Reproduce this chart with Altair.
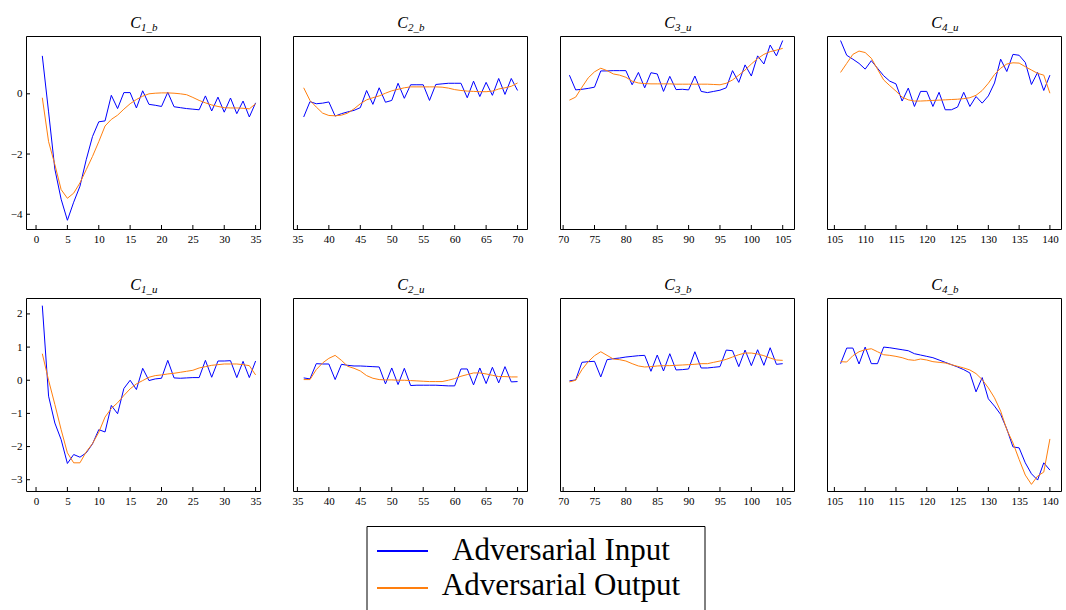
import altair as alt
import pandas as pd

series_names = ["Adversarial Input", "Adversarial Output"]
series_colors = ["#0000ff", "#ff7f0e"]

subs = ["1_b", "2_b", "3_u", "4_u", "1_u", "2_u", "3_b", "4_b"]
x_starts = [1, 36, 71, 106, 1, 36, 71, 106]

c1b_in = [1.26, -0.6, -2.5, -3.5, -4.2, -3.6, -3.07, -2.19, -1.42, -0.93, -0.9, -0.05, -0.49, 0.04, 0.04,
          -0.47, 0.1, -0.35, -0.38, -0.42, 0.05, -0.43, -0.46, -0.49, -0.51, -0.53, -0.07, -0.57, -0.11,
          -0.61, -0.14, -0.66, -0.24, -0.77, -0.3]
c1b_out = [-0.13, -1.59, -2.35, -3.18, -3.47, -3.3, -2.96, -2.52, -2.08, -1.59, -1.07, -0.85, -0.71, -0.51,
           -0.33, -0.19, -0.08, 0.0, 0.02, 0.03, 0.03, 0.02, 0.0, -0.03, -0.12, -0.22, -0.3, -0.37, -0.42,
           -0.46, -0.47, -0.47, -0.48, -0.5, -0.33]
c2b_in = [-0.77, -0.26, -0.33, -0.31, -0.27, -0.74, -0.66, -0.6, -0.55, -0.46, 0.11, -0.35, 0.2, -0.28,
          -0.22, 0.35, -0.15, 0.3, 0.3, 0.3, -0.22, 0.31, 0.33, 0.35, 0.35, 0.35, -0.13, 0.42, -0.09, 0.38,
          -0.05, 0.51, -0.02, 0.51, 0.11]
c2b_out = [0.2, -0.22, -0.44, -0.64, -0.72, -0.73, -0.71, -0.64, -0.5, -0.33, -0.2, -0.13, -0.07, 0.02, 0.1,
           0.15, 0.2, 0.23, 0.23, 0.23, 0.23, 0.23, 0.22, 0.19, 0.14, 0.11, 0.09, 0.08, 0.07, 0.07, 0.09,
           0.16, 0.2, 0.25, 0.36]
c3u_in = [0.62, 0.13, 0.15, 0.18, 0.22, 0.76, 0.76, 0.77, 0.77, 0.77, 0.3, 0.71, 0.2, 0.7, 0.66, 0.08, 0.58,
          0.14, 0.15, 0.13, 0.59, 0.08, 0.04, 0.08, 0.12, 0.2, 0.77, 0.38, 0.96, 0.59, 1.26, 0.99, 1.62,
          1.26, 1.77]
c3u_out = [-0.21, -0.11, 0.22, 0.53, 0.73, 0.85, 0.77, 0.66, 0.62, 0.55, 0.42, 0.36, 0.34, 0.33, 0.33, 0.33,
           0.33, 0.32, 0.32, 0.32, 0.32, 0.32, 0.32, 0.31, 0.3, 0.35, 0.46, 0.62, 0.79, 0.99, 1.17, 1.31,
           1.4, 1.45, 1.51]
c4u_in = [1.77, 1.28, 1.15, 1.01, 0.82, 1.1, 0.85, 0.6, 0.42, 0.33, -0.24, 0.19, -0.42, 0.08, 0.08, -0.42,
          0.05, -0.53, -0.53, -0.44, 0.05, -0.42, -0.09, -0.31, -0.07, 0.36, 1.15, 0.74, 1.31, 1.28, 1.04,
          0.31, 0.71, 0.11, 0.62]
c4u_out = [0.71, 1.01, 1.31, 1.42, 1.37, 1.18, 0.82, 0.46, 0.27, 0.09, -0.11, -0.2, -0.24, -0.24, -0.23,
           -0.22, -0.21, -0.2, -0.19, -0.18, -0.16, -0.13, -0.05, 0.11, 0.35, 0.64, 0.85, 0.99, 1.03, 1.02,
           0.9, 0.79, 0.68, 0.62, 0.02]
c1u_in = [2.25, -0.48, -1.29, -1.79, -2.51, -2.24, -2.32, -2.19, -1.92, -1.49, -1.56, -0.76, -1.01, -0.25,
          0.0, -0.28, 0.36, -0.01, 0.04, 0.06, 0.6, 0.07, 0.06, 0.07, 0.08, 0.08, 0.6, 0.09, 0.58, 0.58,
          0.59, 0.08, 0.57, 0.08, 0.58]
c1u_out = [0.8, 0.0, -0.73, -1.49, -2.19, -2.49, -2.49, -2.16, -1.91, -1.57, -1.11, -0.85, -0.68, -0.46,
           -0.26, -0.11, -0.01, 0.09, 0.14, 0.16, 0.19, 0.21, 0.24, 0.27, 0.3, 0.37, 0.41, 0.45, 0.47, 0.49,
           0.49, 0.49, 0.47, 0.44, 0.16]
c2u_in = [0.07, 0.04, 0.5, 0.49, 0.49, 0.02, 0.48, 0.45, 0.43, 0.43, 0.42, 0.41, 0.4, -0.11, 0.37, -0.13,
          0.36, -0.16, -0.15, -0.15, -0.15, -0.15, -0.16, -0.17, -0.17, 0.34, 0.34, -0.14, 0.37, -0.1,
          0.39, -0.08, 0.41, -0.05, -0.04]
c2u_out = [0.02, 0.02, 0.32, 0.52, 0.66, 0.75, 0.6, 0.42, 0.36, 0.28, 0.14, 0.06, 0.02, 0.01, 0.01, 0.0,
           0.0, -0.01, -0.02, -0.03, -0.04, -0.04, -0.04, 0.0, 0.05, 0.12, 0.17, 0.22, 0.22, 0.19, 0.15,
           0.11, 0.11, 0.1, 0.1]
c3b_in = [-0.02, 0.01, 0.54, 0.56, 0.57, 0.1, 0.62, 0.65, 0.67, 0.7, 0.72, 0.74, 0.75, 0.27, 0.76, 0.28,
          0.8, 0.31, 0.32, 0.34, 0.86, 0.37, 0.37, 0.39, 0.41, 0.91, 0.89, 0.41, 0.91, 0.44, 0.92, 0.45,
          0.98, 0.48, 0.5]
c3b_out = [-0.05, 0.0, 0.32, 0.56, 0.74, 0.86, 0.75, 0.64, 0.62, 0.58, 0.5, 0.43, 0.4, 0.41, 0.43, 0.44,
           0.44, 0.45, 0.46, 0.47, 0.48, 0.5, 0.5, 0.54, 0.58, 0.63, 0.7, 0.77, 0.82, 0.82, 0.79, 0.74,
           0.67, 0.61, 0.6]
c4b_in = [0.5, 0.97, 0.97, 0.49, 1.0, 0.5, 0.5, 1.0, 0.98, 0.95, 0.92, 0.89, 0.8, 0.76, 0.72, 0.68, 0.61,
          0.54, 0.47, 0.4, 0.32, 0.22, -0.35, 0.08, -0.56, -0.78, -1.03, -1.47, -2.01, -2.04, -2.49, -2.82,
          -3.01, -2.49, -2.71]
c4b_out = [0.56, 0.55, 0.74, 0.86, 0.92, 0.95, 0.86, 0.77, 0.75, 0.72, 0.68, 0.62, 0.6, 0.64, 0.61, 0.56,
           0.54, 0.52, 0.47, 0.42, 0.37, 0.31, 0.2, 0.02, -0.23, -0.53, -0.93, -1.49, -1.89, -2.39, -2.86,
           -3.14, -2.89, -2.77, -1.77]

inputs = [c1b_in, c2b_in, c3u_in, c4u_in, c1u_in, c2u_in, c3b_in, c4b_in]
outputs = [c1b_out, c2b_out, c3u_out, c4u_out, c1u_out, c2u_out, c3b_out, c4b_out]

x_ticks = [[0, 5, 10, 15, 20, 25, 30, 35],
           [35, 40, 45, 50, 55, 60, 65, 70],
           [70, 75, 80, 85, 90, 95, 100, 105],
           [105, 110, 115, 120, 125, 130, 135, 140]]
x_domains = [[-1.6, 35.7], [34.3, 71.5], [69.5, 106.8], [103.8, 141.8]]
y_ticks = [[-4, -2, 0], [-3, -2, -1, 0, 1, 2]]
y_domains = [[-4.49, 1.92], [-3.34, 2.48]]

W, H = 234, 193
GAP = 33
SERIF = "Liberation Serif"


def legend_layers():
    # legend drawn below the bottom-left panel, positioned relative to its plot area
    top = H + 35
    layers = [
        alt.Chart(pd.DataFrame({"a": [0]})).mark_rect(
            filled=False, stroke="black", strokeWidth=1
        ).encode(x=alt.value(341), x2=alt.value(679), y=alt.value(top + 0.5), y2=alt.value(top + 100))
    ]
    line_y = [25, 62]
    text_y = [34, 69]
    for k, name in enumerate(series_names):
        layers.append(
            alt.Chart(pd.DataFrame({"s": [name]})).mark_rule(strokeWidth=2, color=series_colors[k]).encode(
                x=alt.value(351), x2=alt.value(402), y=alt.value(top + line_y[k])
            )
        )
        layers.append(
            alt.Chart(pd.DataFrame({"s": [name]})).mark_text(
                font=SERIF, fontSize=31, align="center", baseline="alphabetic", color="black"
            ).encode(text="s:N", x=alt.value(535), y=alt.value(top + text_y[k]))
        )
    return layers


def panel(i):
    row, col = i // 4, i % 4
    xs = list(range(x_starts[i], x_starts[i] + len(inputs[i])))
    df = pd.DataFrame({
        "x": xs + xs,
        "v": inputs[i] + outputs[i],
        "series": [series_names[0]] * len(xs) + [series_names[1]] * len(xs),
    })
    xscale = alt.Scale(domain=x_domains[col], nice=False, zero=False)
    yscale = alt.Scale(domain=y_domains[row], nice=False, zero=False)
    xaxis = alt.Axis(values=x_ticks[col], ticks=False, domain=False, grid=False,
                     labelPadding=4, title=None, format="d")
    if col == 0:
        yaxis = alt.Axis(values=y_ticks[row], ticks=False, domain=False, grid=False,
                         labelPadding=4, title=None, format="d")
    else:
        yaxis = None
    lines = alt.Chart(df).mark_line(strokeWidth=1, clip=True).encode(
        x=alt.X("x:Q", scale=xscale, axis=xaxis),
        y=alt.Y("v:Q", scale=yscale, axis=yaxis),
        color=alt.Color("series:N", scale=alt.Scale(domain=series_names, range=series_colors), legend=None),
    )
    xt = alt.Chart(pd.DataFrame({"x": x_ticks[col]})).mark_rule(color="black", strokeWidth=1).encode(
        x=alt.X("x:Q", scale=xscale, axis=xaxis),
        y=alt.value(H - 4), y2=alt.value(H),
    )
    layers = [lines, xt]
    if col == 0:
        yt = alt.Chart(pd.DataFrame({"v": y_ticks[row]})).mark_rule(color="black", strokeWidth=1).encode(
            y=alt.Y("v:Q", scale=yscale, axis=yaxis),
            x=alt.value(0), x2=alt.value(4),
        )
        layers.append(yt)
    tC = alt.Chart(pd.DataFrame({"t": ["C"]})).mark_text(
        font=SERIF, fontSize=16, fontStyle="italic", align="right", baseline="alphabetic", color="black"
    ).encode(text="t:N", x=alt.value(W / 2 - 2), y=alt.value(-8))
    tS = alt.Chart(pd.DataFrame({"t": [subs[i]]})).mark_text(
        font=SERIF, fontSize=11, fontStyle="italic", align="left", baseline="alphabetic", color="black"
    ).encode(text="t:N", x=alt.value(W / 2 - 2), y=alt.value(-5))
    layers += [tC, tS]
    if i == 4:
        layers += legend_layers()
    return alt.layer(*layers).properties(
        width=W, height=H, view=alt.ViewBackground(stroke="black", strokeWidth=1)
    )


chart = alt.concat(
    *[panel(i) for i in range(8)], columns=4,
    spacing={"row": 69, "column": GAP}, bounds="flush"
).properties(
    padding={"left": 9, "top": 14, "right": 0, "bottom": 0},
    background="white",
).configure_axis(
    labelFont=SERIF, labelFontSize=11, labelColor="black"
)

chart.save("out.html", embed_options={"renderer": "svg", "actions": False})
